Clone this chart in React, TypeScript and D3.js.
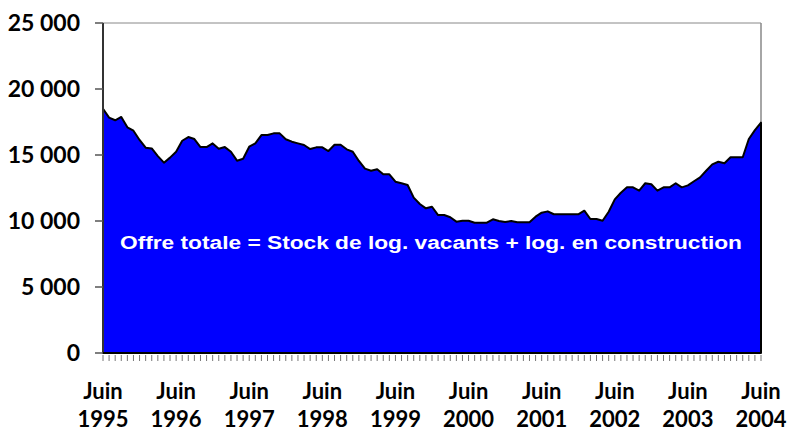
import React from "react";
import * as d3 from "d3";

// monthly values, June 1995 -> June 2004
const offre: number[] = [
  18500, 17830, 17630, 17880, 17100, 16840, 16140, 15550, 15500, 14920,
  14420, 14800, 15250, 16080, 16360, 16210, 15600, 15600, 15880, 15480,
  15600, 15250, 14570, 14720, 15630, 15880, 16510, 16510, 16640, 16640,
  16190, 16010, 15880, 15760, 15450, 15580, 15580, 15300, 15780, 15780,
  15430, 15250, 14550, 13970, 13810, 13920, 13540, 13540, 12980, 12860,
  12730, 11770, 11290, 10960, 11080, 10450, 10450, 10280, 9950, 10020,
  10020, 9870, 9870, 9870, 10130, 10000, 9920, 10000, 9900, 9900,
  9900, 10330, 10630, 10730, 10510, 10510, 10510, 10510, 10510, 10780,
  10150, 10150, 10020, 10700, 11640, 12140, 12550, 12550, 12300, 12860,
  12780, 12300, 12550, 12550, 12860, 12550, 12700, 13010, 13310, 13810,
  14290, 14490, 14370, 14830, 14830, 14830, 16210, 16880, 17450,
];

const years = ["1995", "1996", "1997", "1998", "1999", "2000", "2001", "2002", "2003", "2004"];
const yTicks = [0, 5000, 10000, 15000, 20000, 25000];
const label = "Offre totale = Stock de log. vacants + log. en construction";

const fmt = (v: number) => (v >= 1000 ? d3.format(",")(v).replace(",", " ") : String(v));

export default function App() {
  const width = 788;
  const height = 432;
  const x = d3.scaleLinear().domain([0, offre.length - 1]).range([103, 761]);
  const y = d3.scaleLinear().domain([0, 25000]).range([353, 23]);

  const area = d3
    .area<number>()
    .x((_, i) => x(i))
    .y0(y(0))
    .y1((d) => y(d));

  const axisFont = "Lato, 'DejaVu Sans', sans-serif";

  return (
    <svg
      width={width}
      height={height}
      style={{ position: "absolute", left: 0, top: 0, background: "#fff" }}
    >
      {/* plot frame */}
      <line x1={103} x2={761} y1={23} y2={23} stroke="#888" strokeWidth={1} />
      <line x1={761} x2={761} y1={23} y2={353} stroke="#888" strokeWidth={1.5} />

      <path d={area(offre) || ""} fill="#0000ff" stroke="#000" strokeWidth={2} strokeLinejoin="round" />

      {/* y axis */}
      <line x1={103} x2={103} y1={23} y2={353} stroke="#333" strokeWidth={2} />
      {yTicks.map((t) => (
        <g key={t}>
          <line x1={95} x2={103} y1={y(t)} y2={y(t)} stroke="#555" strokeWidth={1.5} />
          <text
            x={80}
            y={y(t)}
            dy="0.36em"
            textAnchor="end"
            fontFamily={axisFont}
            fontWeight="bold"
            fontSize={23}
            fill="#000"
          >
            {fmt(t)}
          </text>
        </g>
      ))}

      {/* x axis */}
      <line x1={103} x2={761} y1={353} y2={353} stroke="#000" strokeWidth={2} />
      {offre.map((_, i) => (
        <line key={i} x1={x(i)} x2={x(i)} y1={355} y2={361} stroke="#777" strokeWidth={1} />
      ))}
      {years.map((yr, k) => (
        <g key={yr} fontFamily={axisFont} fontWeight="bold" fontSize={22} textAnchor="middle" fill="#000">
          <text x={x(k * 12)} y={399}>Juin</text>
          <text x={x(k * 12)} y={427}>{yr}</text>
        </g>
      ))}

      <text
        x={431}
        y={249}
        textAnchor="middle"
        fontFamily="'Liberation Sans', Arial, sans-serif"
        fontWeight="bold"
        fontSize={18}
        fill="#fff"
        textLength={622}
        lengthAdjust="spacingAndGlyphs"
      >
        {label}
      </text>
    </svg>
  );
}
